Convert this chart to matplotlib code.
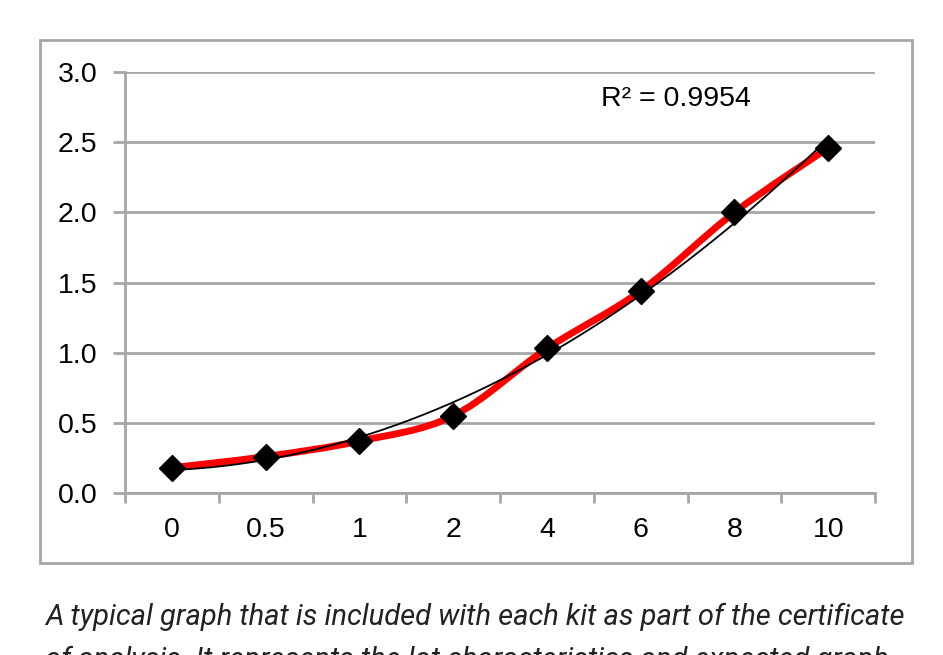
import numpy as np
import matplotlib.pyplot as plt
from matplotlib.path import Path
from matplotlib.patches import PathPatch, Rectangle

plt.rcParams['font.family'] = ['Liberation Sans', 'DejaVu Sans']

# data
categories = ["0", "0.5", "1", "2", "4", "6", "8", "10"]
values = [0.18, 0.26, 0.37, 0.55, 1.03, 1.44, 2.00, 2.46]
y_ticks = [0.0, 0.5, 1.0, 1.5, 2.0, 2.5, 3.0]
r2_label = "R\u00b2 = 0.9954"
caption_1 = "A typical graph that is included with each kit as part of the certificate"
caption_2 = "of analysis. It represents the lot characteristics and expected graph"

grey = "#a6a6a6"

fig = plt.figure(figsize=(9.43, 6.55), dpi=100)
ax = fig.add_axes([0.1326, 0.2473, 0.7954, 0.6427])

x = np.arange(1, len(categories) + 1)
y = np.array(values)

# grid
for t in y_ticks:
    ax.axhline(t, color=grey, lw=2, zorder=1)

# smooth red line (bezier through points, like excel "smoothed line")
pts = np.column_stack([x, y])
ext = np.vstack([pts[0], pts, pts[-1]])
verts = [pts[0]]
codes = [Path.MOVETO]
for i in range(1, len(ext) - 2):
    p0, p1, p2, p3 = ext[i - 1], ext[i], ext[i + 1], ext[i + 2]
    c1 = p1 + (p2 - p0) / 6
    c2 = p2 - (p3 - p1) / 6
    verts += [c1, c2, p2]
    codes += [Path.CURVE4] * 3
ax.add_patch(PathPatch(Path(verts, codes), fill=False, edgecolor="red", lw=5, zorder=3,
                       capstyle="round", joinstyle="round"))

# polynomial trendline
coef = np.polyfit(x, y, 2)
xs = np.linspace(x[0], x[-1], 200)
ax.plot(xs, np.polyval(coef, xs), color="black", lw=1.3, zorder=4)

ax.plot(x, y, linestyle="none", marker="D", markersize=13, color="black", zorder=5)

ax.set_xlim(0.5, len(categories) + 0.5)
ax.set_ylim(0, 3.0)
ax.set_xticks(x)
ax.set_xticklabels(categories)
ax.set_xticks(np.arange(0.5, len(categories) + 1, 1), minor=True)
ax.set_yticks(y_ticks)
ax.set_yticklabels(["%.1f" % t for t in y_ticks])
ax.tick_params(axis="x", which="major", length=0, pad=17, labelsize=20.5)
ax.tick_params(axis="x", which="minor", length=7, width=2, color=grey, direction="out")
ax.tick_params(axis="y", length=9, width=2, color=grey, direction="out", pad=11, labelsize=20.5)
for s in ["top", "right"]:
    ax.spines[s].set_visible(False)
for s in ["left", "bottom"]:
    ax.spines[s].set_color(grey)
    ax.spines[s].set_linewidth(2)
ax.set_facecolor("none")

ax.text(0.635, 0.936, r2_label, transform=ax.transAxes, fontsize=20.5, ha="left", va="center")

# outer chart box
fig.patches.append(Rectangle((40 / 943, 1 - 563 / 655), 872 / 943, 523 / 655,
                             transform=fig.transFigure, fill=False, edgecolor=grey, lw=2))

fig.text(45 / 943, 1 - 625 / 655, caption_1, family="Roboto", style="italic",
         fontsize=21, color="#222222", va="baseline", ha="left")
fig.text(45 / 943, 1 - 668 / 655, caption_2, family="Roboto", style="italic",
         fontsize=21, color="#222222", va="baseline", ha="left")

fig.savefig("out.png", dpi=100)
